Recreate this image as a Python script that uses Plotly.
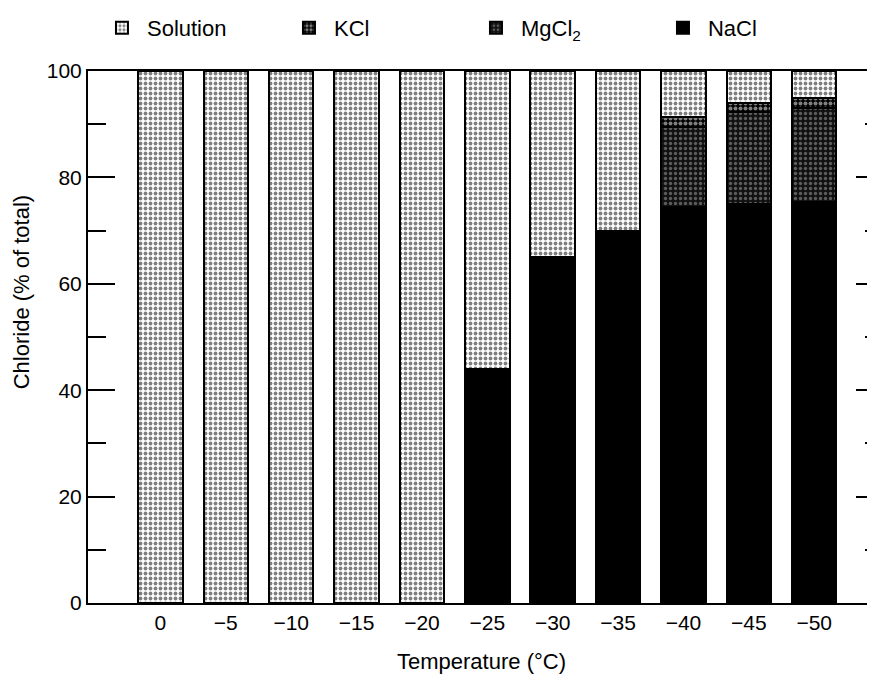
import plotly.graph_objects as go

temps = ["0", "−5", "−10", "−15", "−20", "−25", "−30", "−35", "−40", "−45", "−50"]
nacl = [0, 0, 0, 0, 0, 44, 65, 70, 74.5, 75, 75.3]
mgcl2 = [0, 0, 0, 0, 0, 0, 0, 0, 15, 17.3, 17.8]
kcl = [0, 0, 0, 0, 0, 0, 0, 0, 1.8, 1.6, 1.9]
solution = [100, 100, 100, 100, 100, 56, 35, 30, 8.7, 6.1, 5.0]

FONT = "Liberation Sans, Arial, sans-serif"

fig = go.Figure()
fig.add_trace(go.Bar(
    x=temps, y=nacl, name="NaCl",
    marker=dict(color="black", line=dict(color="black", width=2)),
))
fig.add_trace(go.Bar(
    x=temps, y=mgcl2, name="MgCl<sub>2</sub>",
    marker=dict(color="#222", line=dict(color="black", width=2),
                pattern=dict(shape=".", fgcolor="#aaaaaa", bgcolor="#111111",
                             size=5, solidity=0.35)),
))
fig.add_trace(go.Bar(
    x=temps, y=kcl, name="KCl",
    marker=dict(color="#444", line=dict(color="black", width=2),
                pattern=dict(shape=".", fgcolor="white", bgcolor="black",
                             size=5, solidity=0.5)),
))
fig.add_trace(go.Bar(
    x=temps, y=solution, name="Solution",
    marker=dict(color="white", line=dict(color="black", width=2),
                pattern=dict(shape=".", fgcolor="black", bgcolor="white",
                             size=5, solidity=0.45)),
))

fig.update_layout(
    width=867, height=669,
    barmode="stack", bargap=0.32,
    plot_bgcolor="white", paper_bgcolor="white",
    margin=dict(l=80, r=0, t=63, b=74, autoexpand=False),
    font=dict(family=FONT, size=22, color="black"),
    showlegend=True,
    legend=dict(orientation="h", x=0.0114, xanchor="left", y=1.081, yanchor="middle",
                traceorder="reversed", entrywidth=132, entrywidthmode="pixels",
                font=dict(size=22), itemwidth=40),
    xaxis=dict(
        range=[-1.108, 10.93], showline=True, linecolor="black", linewidth=2,
        mirror=True, ticks="", showgrid=False, zeroline=False,
        tickfont=dict(size=21),
        title=dict(text="Temperature (°C)", font=dict(size=22), standoff=20),
    ),
    yaxis=dict(
        range=[0, 100], showline=True, linecolor="black", linewidth=2,
        mirror=False, ticks="inside", ticklen=27, tickwidth=2, tickcolor="black",
        dtick=20, showgrid=False, zeroline=False, tickfont=dict(size=21),
        minor=dict(dtick=10, ticks="inside", ticklen=18, tickwidth=2, tickcolor="black"),
    ),
    yaxis2=dict(
        range=[0, 100], overlaying="y", side="right", anchor="x",
        showline=False, ticks="inside", ticklen=19, tickwidth=2, tickcolor="black",
        dtick=20, showticklabels=False, showgrid=False, zeroline=False,
        minor=dict(dtick=10, ticks="inside", ticklen=10, tickwidth=2, tickcolor="black"),
    ),
    annotations=[dict(
        text="Chloride (% of total)", textangle=-90, showarrow=False,
        xref="paper", yref="paper", x=-0.0845, y=0.585,
        xanchor="center", yanchor="middle", font=dict(size=22),
    )],
)
# invisible trace to activate right tick axis
fig.add_trace(go.Scatter(x=[temps[0]], y=[0], yaxis="y2", mode="markers",
                         marker=dict(opacity=0), showlegend=False, hoverinfo="skip"))

fig.write_html("out.html")
